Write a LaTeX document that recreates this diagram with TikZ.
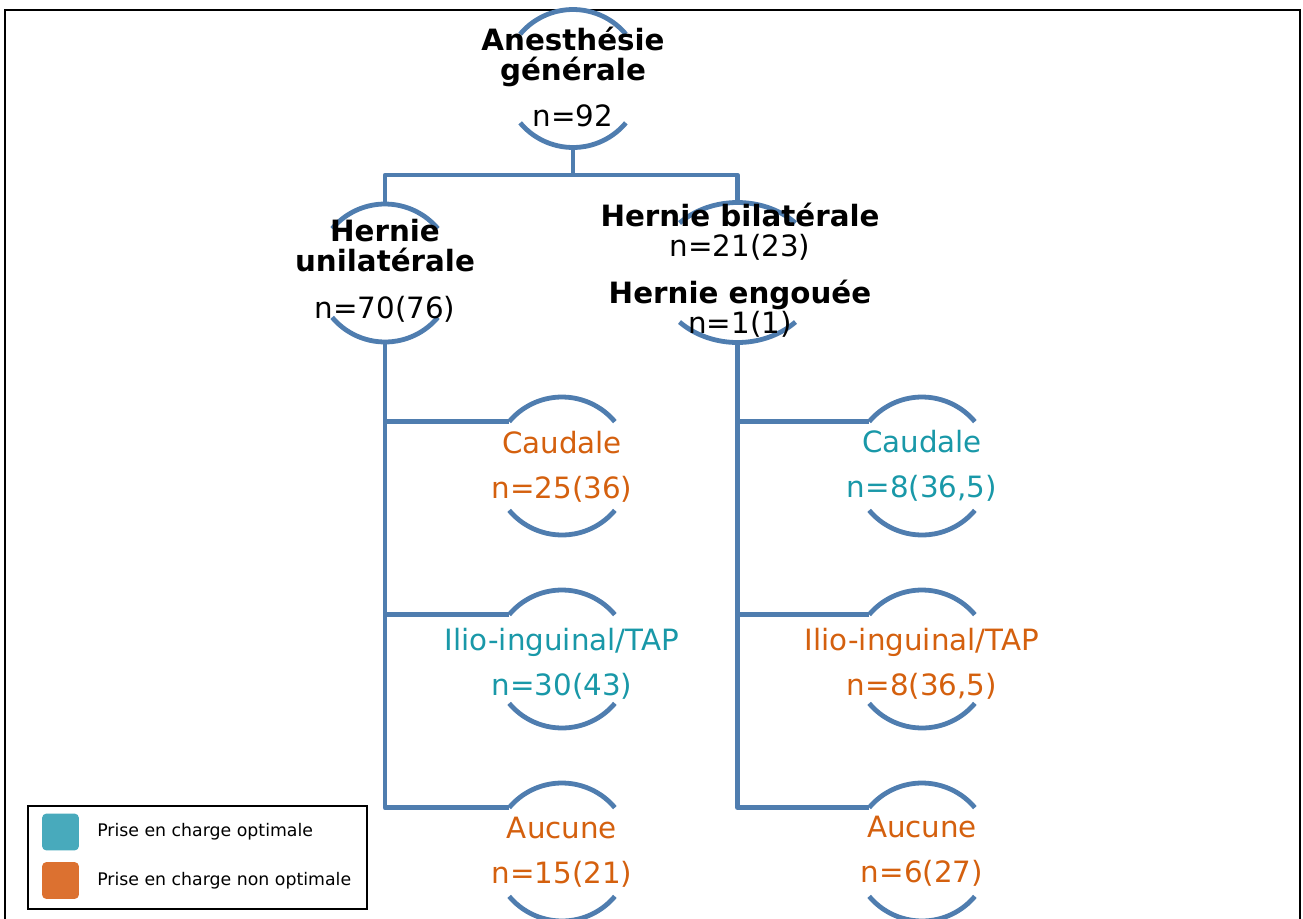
\documentclass[tikz,border=0pt]{standalone}
\usepackage{fontspec}
\setmainfont{DejaVu Sans}
\usetikzlibrary{calc}
\definecolor{trait}{RGB}{79,125,175}
\definecolor{optim}{RGB}{72,170,188}
\definecolor{nonoptim}{RGB}{220,113,48}
\definecolor{txtoptim}{RGB}{25,152,168}
\definecolor{txtnonoptim}{RGB}{212,96,14}
% arcs du haut et du bas autour d'une bulle
\newcommand{\bulle}[4][40]{%
  \pgfmathsetmacro{\angA}{180-#1}%
  \pgfmathsetmacro{\angB}{180+#1}%
  \pgfmathsetmacro{\angC}{360-#1}%
  \draw[lien] (#2.center) ++(#1:#3 and #4) arc[start angle=#1, end angle=\angA, x radius=#3, y radius=#4];
  \draw[lien] (#2.center) ++(\angB:#3 and #4) arc[start angle=\angB, end angle=\angC, x radius=#3, y radius=#4];
}
\tikzset{
  lien/.style={draw=trait, line width=3.6pt, line join=round},
  bulle/.style={circle, minimum size=103.5pt, inner sep=0pt, outer sep=0pt},
  texte/.style={font=\fontsize{22}{22.5}\selectfont, align=center, anchor=base, inner sep=0pt},
  legende/.style={font=\fontsize{13}{15}\selectfont, anchor=west, inner sep=0pt},
  case/.style={rectangle, rounded corners=3pt, minimum size=27.5pt, inner sep=0pt}
}

\begin{document}
\begin{tikzpicture}[x=0.75pt, y=-0.75pt]
    \useasboundingbox (0,0) rectangle (1303,918);
    \draw[line width=1.5pt] (5,10) rectangle (1300,940);

    % bulles
    \node[bulle] (ag) at (573,78.5) {};
    \node[bulle] (uni) at (385,273) {};
    \node[bulle] (bil) at (737.5,272.5) {};
    \node[bulle] (c1) at (562,466) {};
    \node[bulle] (c2) at (562,659) {};
    \node[bulle] (c3) at (562,852) {};
    \node[bulle] (c4) at (922,466) {};
    \node[bulle] (c5) at (922,659) {};
    \node[bulle] (c6) at (922,852) {};
    \coordinate (fourche) at (573,175);

    \bulle{ag}{51.75pt}{51.75pt}
    \bulle{uni}{51.75pt}{51.75pt}
    \bulle[45]{bil}{61.5pt}{52.5pt}
    \foreach \n in {c1,c2,c3,c4,c5,c6}{
        \bulle{\n}{51.75pt}{51.75pt}
    }

    % liens
    \draw[lien] (ag.south) -- (fourche);
    \draw[lien] (uni.north) |- (fourche) -| (bil.north);
    \draw[lien] (uni.south) |- (c3.140);
    \draw[lien] (uni.south |- c1.140) -- (c1.140);
    \draw[lien] (uni.south |- c2.140) -- (c2.140);
    \draw[lien] (bil.south) |- (c6.140);
    \draw[lien] (bil.south |- c4.140) -- (c4.140);
    \draw[lien] (bil.south |- c5.140) -- (c5.140);

    % textes (base = derniere ligne)
    \node[texte] (ag-t) at (573,126) {\textbf{Anesthésie}\\\textbf{générale}\\[12pt]n=92};
    \node[texte] (uni-t) at (385,318) {\textbf{Hernie}\\\textbf{unilatérale}\\[12.5pt]n=70(76)};
    \node[texte] (bil-t) at (740,333) {\textbf{Hernie bilatérale}\\n=21(23)\\[12.5pt]\textbf{Hernie engouée}\\n=1(1)};
    \node[texte, text=txtnonoptim] (c1-t) at (562,498) {Caudale\\[11pt]n=25(36)};
    \node[texte, text=txtoptim] (c2-t) at (562,695) {Ilio-inguinal/TAP\\[11pt]n=30(43)};
    \node[texte, text=txtnonoptim] (c3-t) at (562,883) {Aucune\\[11pt]n=15(21)};
    \node[texte, text=txtoptim] (c4-t) at (922,497) {Caudale\\[11pt]n=8(36,5)};
    \node[texte, text=txtnonoptim] (c5-t) at (922,695) {Ilio-inguinal/TAP\\[11pt]n=8(36,5)};
    \node[texte, text=txtnonoptim] (c6-t) at (922,882) {Aucune\\[11pt]n=6(27)};

    % legende
    \draw[line width=1.1pt] (28,806) rectangle (367,909);
    \node[case, fill=optim] (leg-opt) at (60.5,832) {};
    \node[case, fill=nonoptim] (leg-non) at (60.5,880.5) {};
    \node[legende] (leg-opt-t) at (97,832) {Prise en charge optimale};
    \node[legende] (leg-non-t) at (97,881) {Prise en charge non optimale};
\end{tikzpicture}
\end{document}
